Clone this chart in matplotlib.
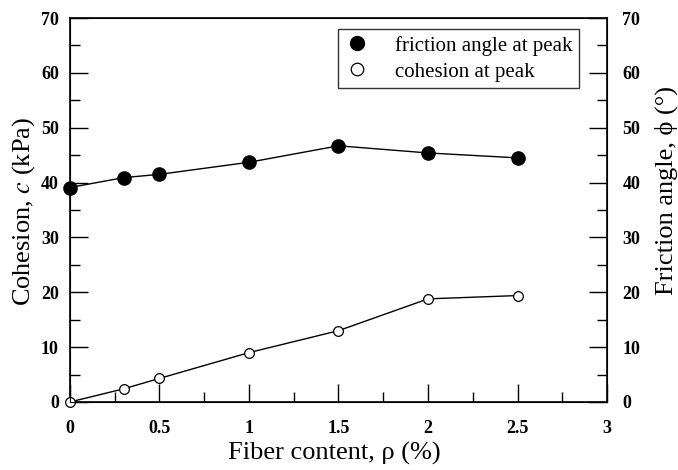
import numpy as np
import matplotlib
matplotlib.use('Agg')
import matplotlib.pyplot as plt
from matplotlib.lines import Line2D
from matplotlib.ticker import MultipleLocator

plt.rcParams['font.family'] = ['Liberation Serif', 'DejaVu Serif']
plt.rcParams['mathtext.fontset'] = 'stix'

fiber = [0, 0.3, 0.5, 1.0, 1.5, 2.0, 2.5]
friction = [39.1, 40.9, 41.5, 43.7, 46.7, 45.4, 44.5]
cohesion = [0.0, 2.4, 4.3, 9.0, 13.0, 18.8, 19.4]
xtick_labels = ['0', '0.5', '1', '1.5', '2', '2.5', '3']

fig = plt.figure(figsize=(6.78, 4.70), dpi=100)
ax = fig.add_axes([0.1032, 0.1447, 0.7921, 0.8170])

# friction angle - filled
ax.plot(fiber, friction, color='black', lw=1.0, marker='o', ms=9.5,
        mfc='black', mec='black', zorder=3, clip_on=False)
# cohesion - open
ax.plot(fiber, cohesion, color='black', lw=1.0, marker='o', ms=7,
        mfc='white', mec='black', mew=0.9, zorder=3, clip_on=False)

ax.set_xlim(0, 3)
ax.set_ylim(0, 70)
ax.xaxis.set_minor_locator(MultipleLocator(0.25))
ax.yaxis.set_major_locator(MultipleLocator(10))
ax.yaxis.set_minor_locator(MultipleLocator(5))
ax.set_xticks([0, 0.5, 1, 1.5, 2, 2.5, 3])
ax.set_xticklabels(xtick_labels)

ax.tick_params(which='major', direction='in', length=13, width=1.0,
               labelsize=13, top=False, right=False, pad=8)
ax.tick_params(axis='x', which='major', pad=13)
ax.tick_params(which='minor', direction='in', length=7, width=1.0,
               top=False, right=False)
for s in ax.spines.values():
    s.set_linewidth(1.2)

ax2 = ax.twinx()
ax2.set_ylim(0, 70)
ax2.yaxis.set_major_locator(MultipleLocator(10))
ax2.yaxis.set_minor_locator(MultipleLocator(5))
ax2.tick_params(which='major', direction='in', length=13, width=1.0,
                labelsize=13, pad=11)
ax2.tick_params(which='minor', direction='in', length=7, width=1.0)

for lbl in ax.get_xticklabels() + ax.get_yticklabels() + ax2.get_yticklabels():
    lbl.set_fontweight('bold')

ax.set_xlabel('Fiber content, ρ (%)', fontsize=19)
ax.set_ylabel(r'Cohesion, $c$ (kPa)', fontsize=19)
ax2.set_ylabel('Friction angle, ϕ (°)', fontsize=19)
ax.xaxis.set_label_coords(0.493, -0.105)
ax.yaxis.set_label_coords(-0.062, 0.495)
ax2.yaxis.set_label_coords(1.089, 0.55)

handles = [
    Line2D([], [], ls='none', marker='o', ms=10, mfc='black', mec='black'),
    Line2D([], [], ls='none', marker='o', ms=9, mfc='white', mec='black', mew=0.9),
]
leg = ax.legend(handles, ['friction angle at peak', 'cohesion at peak'],
                loc='upper right', bbox_to_anchor=(0.948, 0.971),
                fontsize=15, frameon=True, fancybox=False,
                edgecolor='black', handletextpad=1.2, borderpad=0.32,
                labelspacing=0.3, handlelength=1.2, borderaxespad=0)
leg.get_frame().set_linewidth(1.0)

fig.savefig('out.png', dpi=100)
